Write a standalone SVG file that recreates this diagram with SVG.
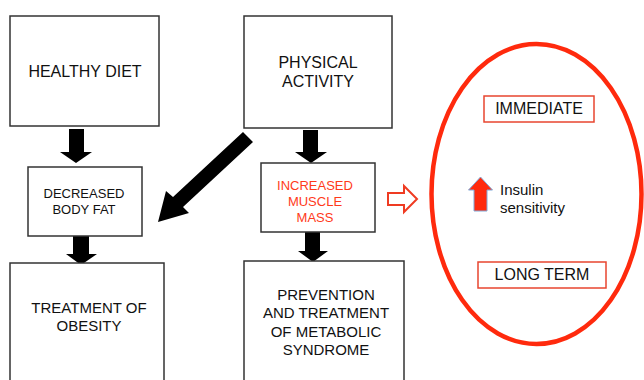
<svg xmlns="http://www.w3.org/2000/svg" width="644" height="380" viewBox="0 0 644 380">
<style>
  .box { fill: #fff; stroke: #333; stroke-width: 1.5; }
  .rbox { fill: #fff; stroke: #e8452f; stroke-width: 1.5; }
  .t { font-family: "Liberation Sans", Arial, sans-serif; fill: #111; text-anchor: middle; }
  .red { fill: #ff3a1a; }
  .blk { fill: #000; }
</style>
<rect width="644" height="380" fill="#fff"/>

<g id="connectors">
  <polygon class="blk" points="69,129 84,129 84,152 92,152 76,163 60,152 69,152"/>
  <polygon class="blk" points="303,130 318,130 318,152 327,152 311,163 295,152 303,152"/>
  <polygon class="blk" points="243,132 253,142 183,207 189,213 158,222 166,191 173,197"/>
  <polygon class="blk" points="73,236 89,236 89,254 97,254 81,265 66,254 73,254"/>
  <polygon class="blk" points="305,232 320,232 320,251 328,251 313,262 298,251 305,251"/>
  <polygon id="hollow-arrow" points="388,193 404,193 404,186 417,199 404,212 404,205 388,205" fill="#fff" stroke="#ef3b22" stroke-width="2"/>
</g>

<g id="healthy-diet">
  <rect class="box" x="10" y="16" width="149" height="110"/>
  <text class="t" x="85" y="77" font-size="16">HEALTHY DIET</text>
</g>

<g id="physical-activity">
  <rect class="box" x="244" y="16" width="148" height="112"/>
  <text class="t" x="318" y="68" font-size="16">PHYSICAL</text>
  <text class="t" x="318" y="87" font-size="16">ACTIVITY</text>
</g>

<g id="decreased-body-fat">
  <rect class="box" x="28" y="167" width="114" height="69"/>
  <text class="t" x="84" y="198" font-size="13">DECREASED</text>
  <text class="t" x="84" y="214" font-size="13">BODY FAT</text>
</g>

<g id="increased-muscle-mass">
  <rect class="box" x="261" y="163" width="114" height="69"/>
  <text class="t red" x="315" y="190" font-size="13">INCREASED</text>
  <text class="t red" x="315" y="206" font-size="13">MUSCLE</text>
  <text class="t red" x="315" y="222" font-size="13">MASS</text>
</g>

<g id="treatment-obesity">
  <rect class="box" x="10" y="263" width="154" height="130"/>
  <text class="t" x="89" y="313" font-size="15">TREATMENT OF</text>
  <text class="t" x="89" y="331" font-size="15">OBESITY</text>
</g>

<g id="prevention">
  <rect class="box" x="244" y="261" width="160" height="130"/>
  <text class="t" x="326" y="300" font-size="15">PREVENTION</text>
  <text class="t" x="326" y="318" font-size="15">AND TREATMENT</text>
  <text class="t" x="326" y="337" font-size="15">OF METABOLIC</text>
  <text class="t" x="326" y="355" font-size="15">SYNDROME</text>
</g>

<g id="effects">
  <ellipse cx="536.5" cy="194" rx="105" ry="150" fill="none" stroke="#ff2a0d" stroke-width="4.5"/>
  <g id="immediate">
    <rect class="rbox" x="484" y="96" width="110" height="26"/>
    <text class="t" x="539" y="114" font-size="16">IMMEDIATE</text>
  </g>
  <g id="insulin">
    <polygon points="474,211 487,211 487,190 492.5,190 480.5,177 468.5,190 474,190" fill="#ff2a0d" stroke="#7fa8d8" stroke-width="1"/>
    <text class="t" x="500" y="195" font-size="15" style="text-anchor:start">Insulin</text>
    <text class="t" x="500" y="213" font-size="15" style="text-anchor:start">sensitivity</text>
  </g>
  <g id="long-term">
    <rect class="rbox" x="478" y="262" width="128" height="26"/>
    <text class="t" x="542" y="280" font-size="16">LONG TERM</text>
  </g>
</g>
</svg>
